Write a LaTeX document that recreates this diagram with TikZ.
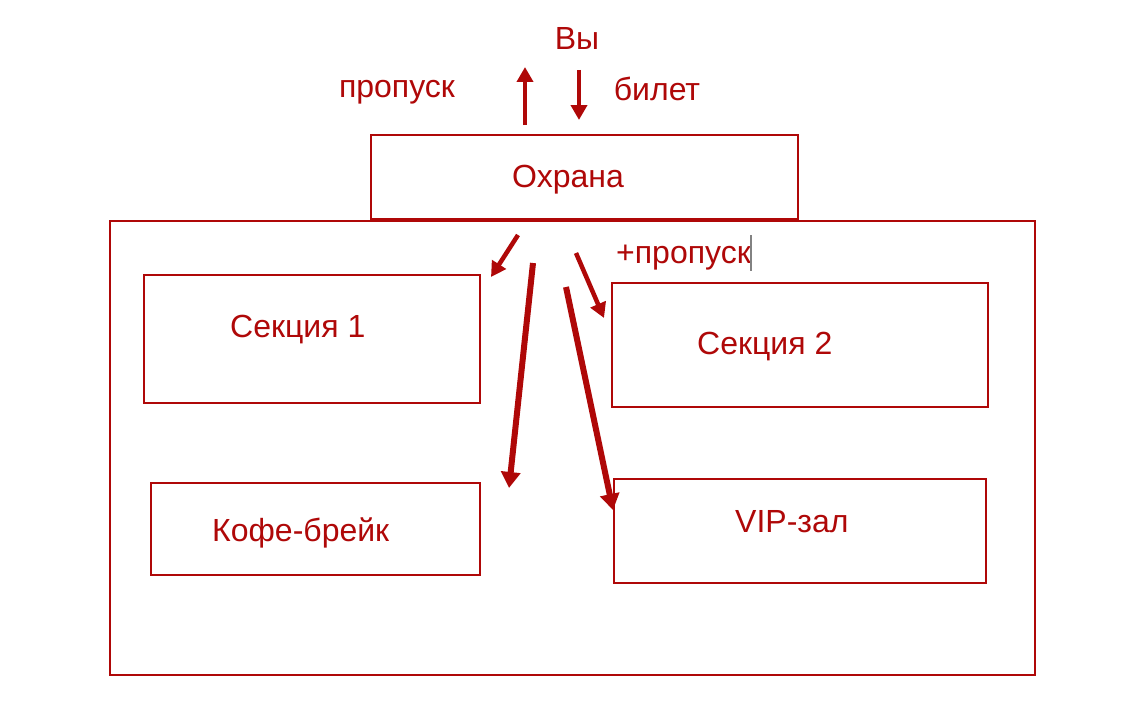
\documentclass[tikz,border=0pt]{standalone}
\usepackage{fontspec}
\setmainfont{Liberation Sans}
\usetikzlibrary{arrows.meta}
\definecolor{dred}{RGB}{175,8,8}
\definecolor{caret}{RGB}{130,130,130}
\begin{document}
\begin{tikzpicture}[x=1pt,y=-1pt,
  box/.style={draw=dred,line width=2.5pt,rectangle,inner sep=0pt,fill=white},
  lbl/.style={text=dred,font=\fontsize{32}{38}\selectfont,inner sep=0pt},
  arr/.style={draw=dred,line width=6pt,-{Triangle[length=16pt,width=19pt]}},
  sarr/.style={draw=dred,line width=4.5pt,-{Triangle[length=15pt,width=16pt]}}]
\useasboundingbox (0,0) rectangle (1146,725);
\fill[white] (0,0) rectangle (1146,725);
% boxes
\node[box,minimum width=925pt,minimum height=454pt] (hall) at (572.5,448) {};
\node[box,minimum width=427pt,minimum height=84pt] (guard) at (584.5,177) {};
\node[box,minimum width=336pt,minimum height=128pt] (s1) at (312,339) {};
\node[box,minimum width=376pt,minimum height=124pt] (s2) at (800,345) {};
\node[box,minimum width=329pt,minimum height=92pt] (cafe) at (315.5,529) {};
\node[box,minimum width=372pt,minimum height=104pt] (vip) at (800,531) {};
% labels
\node[lbl,anchor=base] (tguard) at (568,187) {Охрана};
\node[lbl,anchor=base] (tyou) at (577,49) {Вы};
\node[lbl,anchor=base] (tpass) at (397,97) {пропуск};
\node[lbl,anchor=base] (tticket) at (657,100) {билет};
\node[lbl,anchor=base west] (tplus) at (616,263) {+пропуск};
\node[lbl,anchor=base west] (ts1) at (230,337) {Секция 1};
\node[lbl,anchor=base west] (ts2) at (697,354) {Секция 2};
\node[lbl,anchor=base west] (tcafe) at (212,541) {Кофе-брейк};
\node[lbl,anchor=base west] (tvip) at (735,532) {VIP-зал};
% caret
\coordinate (c1) at (751,235);
\coordinate (c2) at (751,271);
\draw[caret,line width=1.2pt] (c1) -- (c2);
% arrow coordinates
\coordinate (u0) at (525,125); \coordinate (u1) at (525,67);
\coordinate (d0) at (579,70);  \coordinate (d1) at (579,120);
\coordinate (a0) at (518,235); \coordinate (a1) at (491,277);
\coordinate (b0) at (533,263); \coordinate (b1) at (509,488);
\coordinate (e0) at (576,253); \coordinate (e1) at (604,318);
\coordinate (f0) at (566,287); \coordinate (f1) at (613,510);
\draw[sarr] (u0) -- (u1);
\draw[sarr] (d0) -- (d1);
\draw[sarr] (a0) -- (a1);
\draw[arr] (b0) -- (b1);
\draw[sarr] (e0) -- (e1);
\draw[arr] (f0) -- (f1);
\end{tikzpicture}
\end{document}
